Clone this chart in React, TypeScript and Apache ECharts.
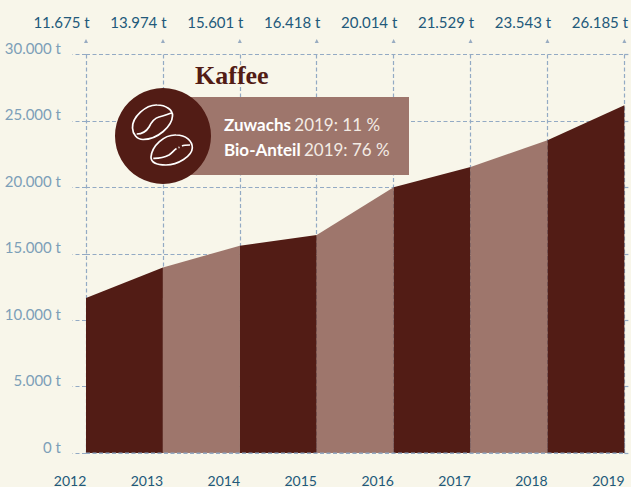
import React, { useEffect, useRef } from "react";
import * as echarts from "echarts";

const years = ["2012", "2013", "2014", "2015", "2016", "2017", "2018", "2019"];
const values = [11675, 13974, 15601, 16418, 20014, 21529, 23543, 26185];
const topLabels = ["11.675 t", "13.974 t", "15.601 t", "16.418 t", "20.014 t", "21.529 t", "23.543 t", "26.185 t"];
const arrowTips = [31020, 31020, 31020, 31020, 31020, 31020, 31020, 31020];
const baseline = [0, 0, 0, 0, 0, 0, 0, 0];
const title = "Kaffee";

const DARK = "#521c15";
const LIGHT = "#9e766c";
const BG = "#f8f6ea";
const GRID = "#93aac4";
const YTXT = "#7d9fb8";
const XTXT = "#22597a";
const FONT = "Lato";

const bean1 =
  "M132.5 128 C132 117 146 104.5 157 105 C166 105 173 110 172.5 116 C172 126 158 139.5 143 139.5 C137 139.5 132.7 134 132.5 128 Z M136.7 134 C142 134 146 132 149 127 C152 121 155 118 159 117 C164 116 168 114 171.7 113";
const bean2 =
  "M151 157 C152 146 164 134.5 176 135 C186 135 192.5 141 192.3 148 C192 156 178 165 166 165 C157 165 151 163 151 157 Z M153.3 158.3 C160 158.5 165 157 169 155 C172 153 174 150 176.5 148.5 M178.5 147.6 L179.5 147.2 M182 146 C184 145 187 145 190 145";
echarts.graphic.registerShape("beanOne", echarts.graphic.extendPath(bean1, {}) as any);
echarts.graphic.registerShape("beanTwo", echarts.graphic.extendPath(bean2, {}) as any);

const fmt = (v: number) => (v === 0 ? "0 t" : `${v / 1000}.000 t`);
const dash = { color: GRID, type: [4, 2.5] as number[], width: 1.2 };

export default function App() {
  const ref = useRef<HTMLDivElement>(null);
  useEffect(() => {
    const chart = echarts.init(ref.current!, undefined, { renderer: "svg" });
    const segments = values.slice(0, -1).map((_, i) => ({
      type: "line",
      data: values.map((v, j) => (j === i || j === i + 1 ? v : null)),
      symbol: "none",
      lineStyle: { width: 0 },
      areaStyle: { color: i % 2 === 0 ? DARK : LIGHT, opacity: 1 },
      z: 2,
      silent: true,
    }));
    chart.setOption({
      animation: false,
      backgroundColor: BG,
      grid: { left: 86, right: 4.5, top: 54.5, bottom: 33, containLabel: false },
      xAxis: [
        {
          type: "category",
          data: years,
          boundaryGap: false,
          position: "bottom",
          axisLine: { show: false },
          axisTick: { show: false },
          axisLabel: {
            color: XTXT,
            fontFamily: FONT,
            fontSize: 14,
            margin: 20,
            interval: 0,
            padding: [0, 32, 0, 0],
          },
          splitLine: { show: true, lineStyle: dash },
        },
        {
          type: "category",
          data: topLabels,
          boundaryGap: false,
          position: "top",
          axisLine: { show: false },
          axisTick: { show: true, alignWithLabel: true, length: 14, lineStyle: dash },
          axisLabel: {
            color: XTXT,
            fontFamily: FONT,
            fontSize: 15,
            margin: 25,
            interval: 0,
            padding: [0, 49, 0, 0],
          },
          splitLine: { show: false },
        },
      ],
      yAxis: [
        {
          type: "value",
          min: 0,
          max: 30000,
          interval: 5000,
          axisLine: { show: false },
          axisTick: { show: true, length: 13.5, lineStyle: dash },
          axisLabel: {
            color: YTXT,
            fontFamily: FONT,
            fontSize: 15,
            margin: 25,
            verticalAlign: "bottom",
            lineHeight: 13,
            formatter: fmt,
          },
          splitLine: { show: true, lineStyle: dash },
        },
        {
          type: "value",
          min: 0,
          max: 30000,
          interval: 5000,
          position: "right",
          axisLine: { show: false },
          axisTick: { show: true, length: 5, lineStyle: dash },
          axisLabel: { show: false },
          splitLine: { show: false },
        },
      ],
      series: [
        ...segments,
        {
          type: "line",
          data: baseline,
          symbol: "none",
          lineStyle: { color: GRID, width: 1.2, type: [4, 2.5] },
          z: 3,
          silent: true,
        },
        {
          type: "scatter",
          data: arrowTips,
          symbol: "triangle",
          symbolSize: 4,
          itemStyle: { color: "#7f99b6" },
          clip: false,
          silent: true,
          z: 3,
        },
      ],
      graphic: [
        { type: "rect", z: 10, silent: true, shape: { x: 163, y: 97, width: 246, height: 78 }, style: { fill: LIGHT } },
        { type: "circle", z: 11, silent: true, shape: { cx: 163, cy: 136, r: 48 }, style: { fill: DARK } },
        { type: "beanOne", z: 12, silent: true, style: { fill: "none", stroke: "#ffffff", lineWidth: 1.7 } },
        { type: "beanTwo", z: 12, silent: true, style: { fill: "none", stroke: "#ffffff", lineWidth: 1.7 } },
        {
          type: "text",
          z: 12,
          silent: true,
          x: 195,
          y: 62,
          style: { text: title, fill: DARK, font: 'bold 26px "Liberation Serif"' },
        },
        {
          type: "text",
          z: 12,
          silent: true,
          x: 224,
          y: 112,
          style: {
            text: "{b|Zuwachs} {r|2019: 11 %}\n{b|Bio-Anteil} {r|2019: 76 %}",
            fill: "#fff",
            rich: {
              b: { fontFamily: FONT, fontWeight: "bold", fontSize: 17, fill: "#ffffff", lineHeight: 25 },
              r: { fontFamily: FONT, fontSize: 17, fill: "#f3ebe4", lineHeight: 25 },
            },
          },
        },
      ],
    });
    return () => chart.dispose();
  }, []);
  return (
    <div
      ref={ref}
      style={{ position: "fixed", left: 0, top: 0, width: 631, height: 487 }}
    />
  );
}
